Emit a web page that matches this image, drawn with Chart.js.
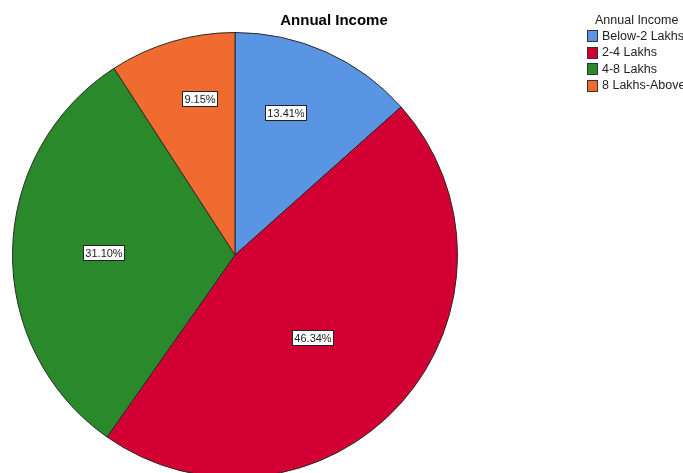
<!DOCTYPE html>
<html lang="en">
<head>
  <meta charset="utf-8" />
  <title>Annual Income</title>
  <script src="https://cdn.jsdelivr.net/npm/chart.js"></script>
  <style>
    * { box-sizing: border-box; margin: 0; padding: 0; }
    html, body { width: 683px; height: 473px; overflow: hidden; background: #fff; }
    #wrap { position: absolute; left: 0; top: 0; width: 683px; height: 480px; }
  </style>
</head>
<body>
  <div id="wrap"><canvas id="incomeChart" width="683" height="480"></canvas></div>

  <script>
    const categories = ['Below-2 Lakhs', '2-4 Lakhs', '4-8 Lakhs', '8 Lakhs-Above'];
    const percents = [13.41, 46.34, 31.10, 9.15];
    const sliceColors = ['#5995e2', '#d20032', '#2a892b', '#f06b30'];
    // where each value label sits: fraction of radius, and turn from mid-angle (deg)
    const labelDepth = [0.68, 0.51, 0.59, 0.72];
    const labelTurn = [-4.5, 5, 0, 4];

    // white boxed percentage labels inside each slice
    const sliceLabels = {
      id: 'sliceLabels',
      afterDatasetsDraw(chart) {
        const ctx = chart.ctx;
        const arcs = chart.getDatasetMeta(0).data;
        ctx.save();
        ctx.font = '11px "Liberation Sans", Arial, sans-serif';
        ctx.textAlign = 'center';
        ctx.textBaseline = 'middle';
        arcs.forEach((arc, i) => {
          const { x, y, startAngle, endAngle, outerRadius } = arc.getProps(['x', 'y', 'startAngle', 'endAngle', 'outerRadius'], true);
          const mid = (startAngle + endAngle) / 2 + labelTurn[i] * Math.PI / 180;
          const r = outerRadius * labelDepth[i];
          const cx = x + Math.cos(mid) * r;
          const cy = y + Math.sin(mid) * r;
          const txt = percents[i].toFixed(2) + '%';
          const w = Math.round(ctx.measureText(txt).width + 5);
          const h = 16;
          const bx = Math.round(cx - w / 2), by = Math.round(cy - h / 2);
          ctx.fillStyle = '#fff';
          ctx.fillRect(bx, by, w, h);
          ctx.strokeStyle = '#222';
          ctx.lineWidth = 1;
          ctx.strokeRect(bx + 0.5, by + 0.5, w - 1, h - 1);
          ctx.fillStyle = '#222';
          ctx.fillText(txt, bx + w / 2, by + h / 2 + 0.5);
        });
        ctx.restore();
      }
    };

    // title and legend at the top right
    const sideLegend = {
      id: 'sideLegend',
      afterDraw(chart) {
        const ctx = chart.ctx;
        ctx.save();
        ctx.textBaseline = 'middle';
        ctx.fillStyle = '#000';
        ctx.textAlign = 'center';
        ctx.font = 'bold 15px "Liberation Sans", Arial, sans-serif';
        ctx.fillText('Annual Income', 334, 21);

        ctx.textAlign = 'left';
        ctx.font = '12.5px "Liberation Sans", Arial, sans-serif';
        ctx.fillStyle = '#222';
        ctx.fillText('Annual Income', 595, 20.5);
        chart.data.labels.forEach((lab, i) => {
          const yy = 36 + i * 16.5;
          const by = Math.round(yy - 6);
          ctx.fillStyle = sliceColors[i];
          ctx.fillRect(587, by, 11, 12);
          ctx.strokeStyle = '#333';
          ctx.lineWidth = 1;
          ctx.strokeRect(587.5, by + 0.5, 10, 11);
          ctx.fillStyle = '#222';
          ctx.fillText(lab, 602, yy + 0.5);
        });
        ctx.restore();
      }
    };

    new Chart('incomeChart', {
      type: 'pie',
      data: {
        labels: categories,
        datasets: [{
          data: percents,
          backgroundColor: sliceColors,
          borderColor: '#2a2a2a',
          borderWidth: 1
        }]
      },
      options: {
        responsive: false,
        animation: false,
        layout: { padding: { left: 12, top: 32, right: 225, bottom: 2 } },
        plugins: {
          legend: { display: false },
          title: { display: false },
          tooltip: { enabled: false }
        }
      },
      plugins: [sliceLabels, sideLegend]
    });
  </script>
</body>
</html>
